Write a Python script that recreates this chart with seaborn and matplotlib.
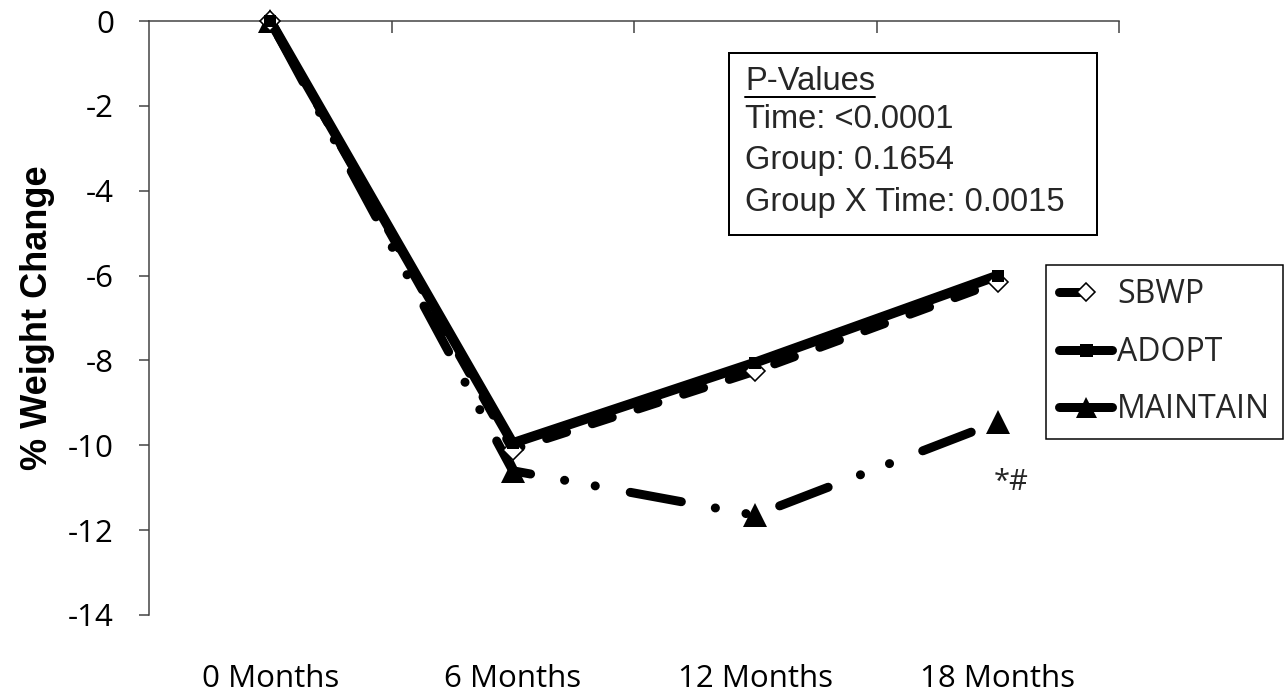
import matplotlib
matplotlib.use("Agg")
import matplotlib.pyplot as plt
from matplotlib.lines import Line2D
from matplotlib.patches import Rectangle
import seaborn as sns
import pandas as pd

# ---- data ----
timepoints = ["0 Months", "6 Months", "12 Months", "18 Months"]
sbwp = [0.0, -10.1, -8.25, -6.15]
adopt = [0.0, -9.95, -8.05, -6.0]
maintain = [0.0, -10.6, -11.65, -9.45]
group_names = ["SBWP", "ADOPT", "MAINTAIN"]
pvalue_title = "P-Values"
pvalue_lines = ["Time: <0.0001", "Group: 0.1654", "Group X Time: 0.0015"]
annotation = "*#"
yticks = [0, -2, -4, -6, -8, -10, -12, -14]

sns.set_theme(style="white")
plt.rcParams["lines.scale_dashes"] = False

W, H = 1287, 693
fig = plt.figure(figsize=(W / 100, H / 100), dpi=100)
ax = fig.add_axes([149 / W, 1 - 615 / H, (1119 - 149) / W, (615 - 21) / H])

pos = list(range(len(timepoints)))
df = pd.DataFrame({"pos": pos * 3,
                   "val": sbwp + adopt + maintain,
                   "grp": [g for g in group_names for _ in pos]})

px = 0.72  # points per pixel at dpi 100
styles = {
    "SBWP": dict(lw=9 * px, dashes=(0, (21 * px, 27 * px)), marker="D", ms=14 * px,
                 mfc="white", mec="black", mew=1.6 * px),
    "ADOPT": dict(lw=10 * px, dashes=None, marker="s", ms=12 * px,
                  mfc="black", mec="black", mew=0),
    "MAINTAIN": dict(lw=9 * px,
                     dashes=(136 * px, (52 * px, 34.5 * px, 0.1, 31 * px, 0.1, 35.5 * px)),
                     marker="^", ms=24 * px, mfc="black", mec="black", mew=0),
}
order = ["MAINTAIN", "SBWP", "ADOPT"]
for g in order:
    st = styles[g]
    sub = df[df["grp"] == g]
    sns.lineplot(data=sub, x="pos", y="val", ax=ax, color="black", lw=st["lw"],
                 legend=False, clip_on=False, zorder=3)
    ln = ax.lines[-1]
    ln.set_solid_capstyle("round")
    ln.set_dash_capstyle("round")
    ln.set_solid_joinstyle("round")
    ln.set_dash_joinstyle("round")
    if st["dashes"] is not None:
        ln.set_linestyle(st["dashes"])
    ax.plot(sub["pos"], sub["val"], ls="none", marker=st["marker"], ms=st["ms"],
            mfc=st["mfc"], mec=st["mec"], mew=st["mew"], clip_on=False, zorder=5)

ax.set_xlim(-0.5, 3.5)
ax.set_ylim(-14, 0)
ax.set_yticks(yticks)
ax.set_yticklabels([str(v) for v in yticks], fontsize=22.5, family="Open Sans")
ax.set_xticks(pos)
ax.set_xticklabels(timepoints, fontsize=22.5, family="Open Sans")
ax.set_xticks([0.5, 1.5, 2.5, 3.5], minor=True)
ax.tick_params(axis="x", which="major", bottom=False, top=False, pad=29, colors="black")
ax.tick_params(axis="x", which="minor", top=True, bottom=False, direction="in",
               length=12 * px, width=1.5 * px, color="#404040")
ax.tick_params(axis="y", which="major", left=True, direction="out", length=10 * px,
               width=1.5 * px, color="#404040", pad=18, labelcolor="black")
ax.set_xlabel("")
ax.set_ylabel("% Weight Change", fontsize=26, fontweight="bold",
              family="Liberation Sans", labelpad=9, color="black")
for s in ["bottom", "right"]:
    ax.spines[s].set_visible(False)
for s in ["left", "top"]:
    ax.spines[s].set_visible(True)
    ax.spines[s].set_color("#404040")
    ax.spines[s].set_linewidth(1.5 * px)

# ---- P-values box ----
fig.add_artist(Rectangle((729 / W, 1 - 235 / H), (1097 - 729) / W, (235 - 53) / H,
                         transform=fig.transFigure, fill=False, ec="black", lw=2 * px))
t0 = fig.text(745 / W, 1 - 81 / H, pvalue_title, fontsize=23.5, family="Liberation Sans",
              va="center", ha="left")
for i, s in enumerate(pvalue_lines):
    fig.text(745 / W, 1 - (120 + 41 * i) / H, s, fontsize=23.5, family="Liberation Sans",
             va="center", ha="left")
fig.canvas.draw()
bb = t0.get_window_extent().transformed(fig.transFigure.inverted())
fig.add_artist(Line2D([bb.x0, bb.x1], [1 - 97 / H, 1 - 97 / H], color="black",
                      lw=2 * px, transform=fig.transFigure))

# ---- annotation ----
fig.text(1011 / W, 1 - 482 / H, annotation, fontsize=21, family="Open Sans",
         ha="center", va="center")

# ---- legend ----
leg_styles = {
    "SBWP": dict(ls=(0, (20 * px, 60 * px)), marker="D", ms=13 * px, mfc="white",
                 mec="black", mew=1.6 * px),
    "ADOPT": dict(ls="-", marker="s", ms=13 * px, mfc="black", mec="black", mew=0),
    "MAINTAIN": dict(ls="-", marker="^", ms=21 * px, mfc="black", mec="black", mew=0),
}
handles = []
for g in group_names:
    st = leg_styles[g]
    handles.append(Line2D([], [], color="black", lw=9 * px, ls=st["ls"],
                          solid_capstyle="round", dash_capstyle="round",
                          marker=st["marker"], ms=st["ms"], mfc=st["mfc"], mec=st["mec"],
                          mew=st["mew"]))
leg = fig.legend(handles, group_names, loc="upper left",
                 bbox_to_anchor=(1046 / W, 1 - 265 / H), fancybox=False,
                 edgecolor="black", framealpha=1, prop={"family": "Open Sans", "size": 23},
                 handlelength=1.65, handletextpad=0.15, labelspacing=0.76,
                 borderpad=0.42, borderaxespad=0)
leg.get_frame().set_linewidth(1.5 * px)

fig.savefig("out.png", dpi=100)
